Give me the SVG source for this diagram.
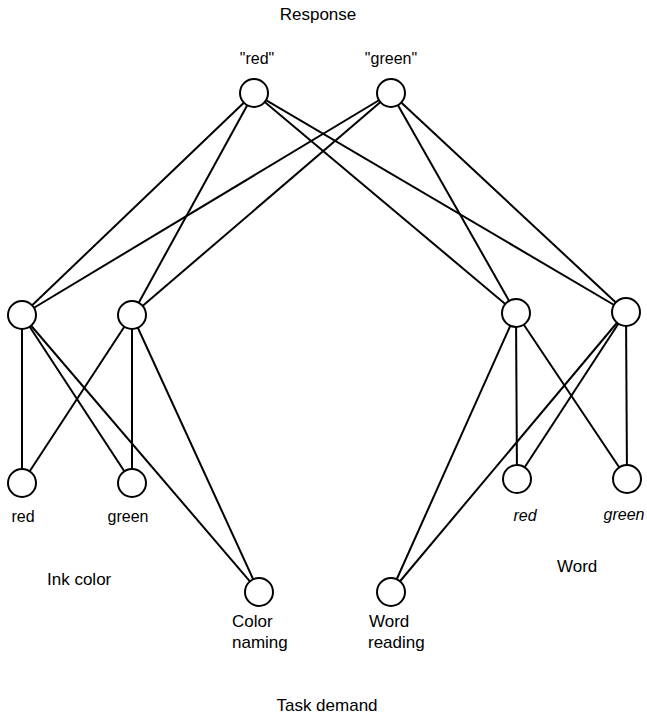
<svg xmlns="http://www.w3.org/2000/svg" width="647" height="715" viewBox="0 0 647 715">
<style>
.n{fill:#fff;stroke:#000;stroke-width:2}
.e line{stroke:#000;stroke-width:2}
text{font-family:"Liberation Sans",Arial,sans-serif;font-size:16px;fill:#000}
.L{font-size:17px}
.c{text-anchor:middle}
.i{font-style:italic}
</style>
<rect width="647" height="715" fill="#fff"/>
<g id="connectors" class="e">
<line x1="254" y1="93" x2="22" y2="315"/>
<line x1="254" y1="93" x2="132" y2="315"/>
<line x1="254" y1="93" x2="516" y2="313"/>
<line x1="254" y1="93" x2="626" y2="312"/>
<line x1="391" y1="93" x2="22" y2="315"/>
<line x1="391" y1="93" x2="132" y2="315"/>
<line x1="391" y1="93" x2="516" y2="313"/>
<line x1="391" y1="93" x2="626" y2="312"/>
<line x1="22" y1="315" x2="22" y2="483"/>
<line x1="22" y1="315" x2="132" y2="483"/>
<line x1="22" y1="315" x2="259" y2="592"/>
<line x1="132" y1="315" x2="22" y2="483"/>
<line x1="132" y1="315" x2="132" y2="483"/>
<line x1="132" y1="315" x2="259" y2="592"/>
<line x1="516" y1="313" x2="517" y2="479"/>
<line x1="516" y1="313" x2="627" y2="479"/>
<line x1="516" y1="313" x2="391" y2="592"/>
<line x1="626" y1="312" x2="517" y2="479"/>
<line x1="626" y1="312" x2="627" y2="479"/>
<line x1="626" y1="312" x2="391" y2="592"/>
</g>
<g id="resp-red"><circle class="n" cx="254" cy="93" r="14"/><text class="c" x="257" y="64">"red"</text></g>
<g id="resp-green"><circle class="n" cx="391" cy="93" r="14"/><text class="c" x="391" y="64">"green"</text></g>
<g id="hid-l1"><circle class="n" cx="22" cy="315" r="14"/></g>
<g id="hid-l2"><circle class="n" cx="132" cy="315" r="14"/></g>
<g id="hid-r1"><circle class="n" cx="516" cy="313" r="14"/></g>
<g id="hid-r2"><circle class="n" cx="626" cy="312" r="14"/></g>
<g id="ink-red"><circle class="n" cx="22" cy="483" r="14"/><text class="c" x="23" y="522">red</text></g>
<g id="ink-green"><circle class="n" cx="132" cy="483" r="14"/><text class="c" x="128" y="522">green</text></g>
<g id="word-red"><circle class="n" cx="517" cy="479" r="14"/><text class="c i" x="525" y="521">red</text></g>
<g id="word-green"><circle class="n" cx="627" cy="479" r="14"/><text class="c i" x="624" y="520">green</text></g>
<g id="task-color"><circle class="n" cx="259" cy="592" r="14"/><text class="L" x="232" y="627">Color</text><text class="L" x="232" y="648">naming</text></g>
<g id="task-word"><circle class="n" cx="391" cy="592" r="14"/><text class="L" x="369" y="627">Word</text><text class="L" x="368" y="648">reading</text></g>
<g id="labels">
<text class="c L" x="318" y="20">Response</text>
<text class="L" x="47" y="585">Ink color</text>
<text class="L" x="557" y="572">Word</text>
<text class="c L" x="327" y="711">Task demand</text>
</g>
</svg>
